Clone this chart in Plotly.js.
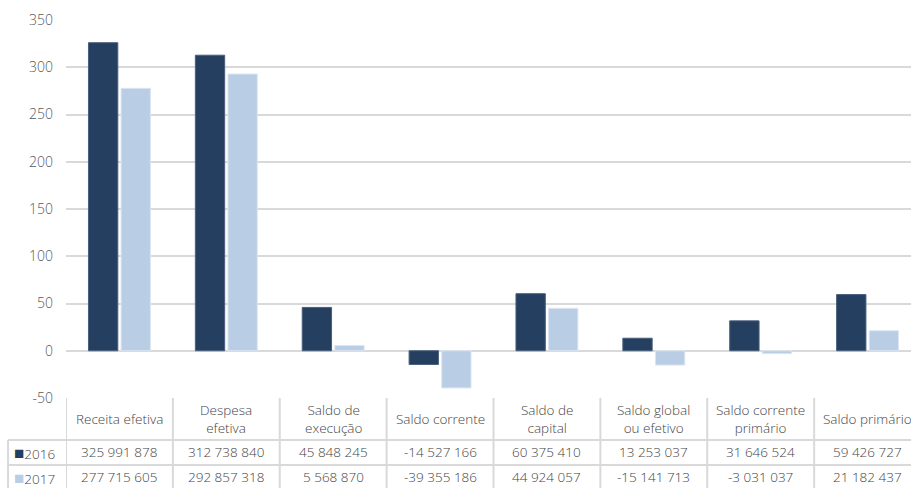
<!DOCTYPE html>
<html>
<head>
<meta charset="utf-8">
<script src="https://cdn.plot.ly/plotly-3.0.1.min.js"></script>
<style>
html,body{margin:0;padding:0;overflow:hidden;background:#fff;width:911px;height:488px;}
#chart{width:925px;height:488px;}
</style>
</head>
<body>
<div id="chart"></div>
<script>
// ---- data ----
const categories = ["Receita efetiva","Despesa efetiva","Saldo de execução","Saldo corrente","Saldo de capital","Saldo global ou efetivo","Saldo corrente primário","Saldo primário"];
const headerLabels = ["Receita efetiva","Despesa<br>efetiva","Saldo de<br>execução","Saldo corrente","Saldo de<br>capital","Saldo global<br>ou efetivo","Saldo corrente<br>primário","Saldo primário"];
const seriesNames = ["2016","2017"];
const values2016 = [325991878, 312738840, 45848245, -14527166, 60375410, 13253037, 31646524, 59426727];
const values2017 = [277715605, 292857318, 5568870, -39355186, 44924057, -15141713, -3031037, 21182437];
const yTicks = [-50, 0, 50, 100, 150, 200, 250, 300, 350];

// ---- style ----
const colors = ["#243f60", "#b9cde5"];
const lineColors = ["#4a5f7c", "#dce6f2"];
const W = 925, H = 488, ML = 66, MR = 4, MT = 20, MB = 90;
const plotH = H - MT - MB, plotW = W - ML - MR;
const py = px => -(px - (H - MB)) / plotH;   // pixel y -> paper y
const pxX = px => (px - ML) / plotW;          // pixel x -> paper x
const fontFam = "'Open Sans', Lato, sans-serif";
const textColor = "#454545";
const gridColor = "#d9d9d9";

function fmt(v){
  const s = Math.abs(v).toString().replace(/\B(?=(\d{3})+(?!\d))/g, " ");
  return (v < 0 ? "-" : "") + s;
}

const idx = categories.map((c,i)=>i);
const traces = [values2016, values2017].map((vals, k) => ({
  type: "bar",
  name: seriesNames[k],
  x: idx,
  y: vals.map(v => v / 1e6),
  marker: {color: colors[k], line: {color: lineColors[k], width: 1}},
  hoverinfo: "skip"
}));

const shapes = [];
const lineStyle = {color: gridColor, width: 2};
// horizontal table lines
[440, 465].forEach(p => shapes.push({type:"line", xref:"paper", yref:"paper", x0:pxX(8), x1:1.2, y0:py(p), y1:py(p), line:lineStyle}));
// vertical column lines
for (let i = 0; i <= categories.length; i++) {
  shapes.push({type:"line", xref:"x", yref:"paper", x0:i-0.5, x1:i-0.5, y0:py(398), y1:py(492), line:lineStyle});
}
shapes.push({type:"line", xref:"paper", yref:"paper", x0:pxX(8), x1:pxX(8), y0:py(440), y1:py(492), line:lineStyle});

const annotations = [];
const tfont = {family: fontFam, size: 13.5, color: textColor, weight: 300};
headerLabels.forEach((h,i)=>annotations.push({x:i, xref:"x", yref:"paper", y:py(419), text:h, showarrow:false, font:tfont, xanchor:"center", yanchor:"middle", align:"center"}));
[values2016, values2017].forEach((vals,k)=>{
  const yy = k === 0 ? 452 : 477;
  vals.forEach((v,i)=>annotations.push({x:i, xref:"x", yref:"paper", y:py(yy), text:fmt(v), showarrow:false, font:tfont, xanchor:"center", yanchor:"middle"}));
  annotations.push({x:pxX(12), xref:"paper", yref:"paper", y:py(yy), xanchor:"left", yanchor:"middle", showarrow:false, font:tfont,
    text:'<span style="color:'+colors[k]+';font-size:17px">■</span>'+seriesNames[k]});
});

const layout = {
  width: W, height: H,
  margin: {l: ML, r: MR, t: MT, b: MB, pad: 0},
  paper_bgcolor: "#fff", plot_bgcolor: "#fff",
  showlegend: false,
  barmode: "group",
  bargap: 0.39, bargroupgap: 0.1,
  font: {family: fontFam, size: 14, color: textColor},
  xaxis: {type: "linear", range: [-0.5, categories.length - 0.5], showticklabels: false, showgrid: false, zeroline: false, showline: false, ticks: ""},
  yaxis: {range: [-50, 350], tickvals: yTicks, ticktext: yTicks.map(String), showgrid: true, gridcolor: gridColor, gridwidth: 2,
    zeroline: true, zerolinecolor: gridColor, zerolinewidth: 2, showline: false, ticks: "", ticklabelstandoff: 12,
    tickfont: {family: fontFam, size: 14, color: "#595959", weight: 300}},
  shapes, annotations
};

Plotly.newPlot("chart", traces, layout, {displayModeBar: false, staticPlot: true});
</script>
</body>
</html>
